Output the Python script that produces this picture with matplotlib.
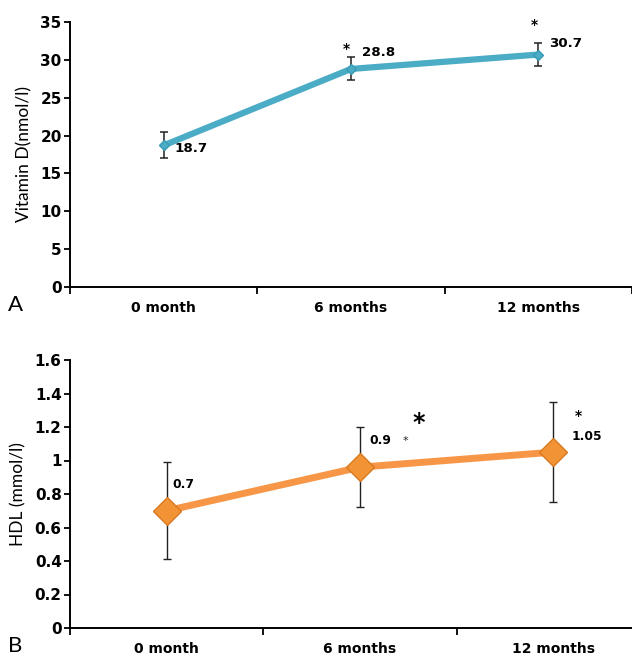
import matplotlib
matplotlib.use("Agg")
import matplotlib.pyplot as plt
import numpy as np

categories = ["0 month", "6 months", "12 months"]

vitd_values = [18.7, 28.8, 30.7]
vitd_err_low = [1.6, 1.5, 1.5]
vitd_err_high = [1.8, 1.6, 1.5]
vitd_ticks = [0, 5, 10, 15, 20, 25, 30, 35]

hdl_values = [0.70, 0.96, 1.05]
hdl_err_low = [0.29, 0.24, 0.30]
hdl_err_high = [0.29, 0.24, 0.30]
hdl_ticks = [0, 0.2, 0.4, 0.6, 0.8, 1.0, 1.2, 1.4, 1.6]
hdl_tick_labels = ["0", "0.2", "0.4", "0.6", "0.8", "1", "1.2", "1.4", "1.6"]

vitd_labels = ["18.7", "28.8", "30.7"]
hdl_labels = ["0.7", "0.9", "1.05"]

BOLD = ['DejaVu Sans']
LIGHT = ['Lato', 'DejaVu Sans']

fig = plt.figure(figsize=(6.32, 6.6), dpi=100)
W, H = 632, 660

def style_axes(ax, yticks, ylabels, ylabel, ylabel_size, labelpad):
    ax.spines['top'].set_visible(False)
    ax.spines['right'].set_visible(False)
    ax.spines['left'].set_linewidth(1.4)
    ax.spines['bottom'].set_linewidth(1.4)
    ax.set_xlim(0, 3)
    ax.set_xticks([0, 1, 2, 3])
    ax.set_xticklabels([])
    ax.set_xticks([0.5, 1.5, 2.5], minor=True)
    ax.set_xticklabels(categories, minor=True, fontsize=10, fontweight='bold',
                       family=BOLD)
    ax.tick_params(axis='x', which='minor', length=0, pad=10)
    ax.tick_params(axis='x', which='major', length=5, width=1.3, direction='out')
    ax.set_yticks(yticks)
    ax.set_yticklabels(ylabels, fontsize=11, fontweight='bold', family=BOLD)
    ax.tick_params(axis='y', length=4, width=1.3, direction='out', pad=2)
    ax.set_ylabel(ylabel, fontsize=ylabel_size, labelpad=labelpad, family=LIGHT)

x = np.arange(len(categories)) + 0.5

# Panel A
axA = fig.add_axes([70 / W, 1 - 287 / H, 562 / W, 265 / H])
axA.errorbar(x, vitd_values, yerr=[vitd_err_low, vitd_err_high], fmt='none',
             ecolor='#222222', elinewidth=1.1, capsize=3, capthick=1.1, zorder=2)
axA.plot(x, vitd_values, color='#4BACC6', lw=4.5, marker='D', markersize=5,
         markerfacecolor='#4BACC6', markeredgecolor='#3a9ab5', zorder=3,
         solid_capstyle='round')
axA.set_ylim(0, 35)
style_axes(axA, vitd_ticks, [str(t) for t in vitd_ticks], "Vitamin D(nmol/l)", 12.5, 6)

lab_off_A = [(8, -2), (8, 12), (8, 8)]
for xi, yi, lab, off in zip(x, vitd_values, vitd_labels, lab_off_A):
    axA.annotate(lab, (xi, yi), xytext=off, textcoords='offset points',
                 fontsize=9.6, fontweight='bold', ha='left', va='center', family=BOLD)
star_off_A = [(-3, 14), (-3, 21)]
for xi, yi, off in zip(x[1:], vitd_values[1:], star_off_A):
    axA.annotate("*", (xi, yi), xytext=off, textcoords='offset points',
                 fontsize=10, fontweight='bold', ha='center', va='center', family=BOLD)
fig.text(8 / W, 1 - 305 / H, "A", fontsize=16, ha='left', va='center', family=LIGHT)

# Panel B
axB = fig.add_axes([70 / W, 1 - 628 / H, 580 / W, 268 / H])
axB.errorbar(x, hdl_values, yerr=[hdl_err_low, hdl_err_high], fmt='none',
             ecolor='#222222', elinewidth=1.0, capsize=3, capthick=1.0, zorder=2)
axB.plot(x, hdl_values, color='#F79646', lw=5, zorder=3, solid_capstyle='round')
axB.plot(x, hdl_values, linestyle='none', marker='D', markersize=14,
         markerfacecolor='#F29335', markeredgecolor='#D9791F', zorder=4)
axB.set_ylim(0, 1.6)
style_axes(axB, hdl_ticks, hdl_tick_labels, "HDL (mmol/l)", 12.5, 6)

lab_off_B = [(4, 19), (7, 19), (13, 11)]
for xi, yi, lab, off in zip(x, hdl_values, hdl_labels, lab_off_B):
    axB.annotate(lab, (xi, yi), xytext=off, textcoords='offset points',
                 fontsize=8.8, fontweight='bold', ha='left', va='center', family=BOLD)
axB.annotate("*", (x[1], hdl_values[1]), xytext=(33, 19), textcoords='offset points',
             fontsize=8, ha='center', va='center', color='#222222', family=BOLD)
axB.annotate("*", (x[1], hdl_values[1]), xytext=(42, 32), textcoords='offset points',
             fontsize=17, fontweight='bold', ha='center', va='center', family=BOLD)
axB.annotate("*", (x[2], hdl_values[2]), xytext=(18, 26), textcoords='offset points',
             fontsize=10, fontweight='bold', ha='center', va='center', family=BOLD)
fig.text(8 / W, 1 - 646 / H, "B", fontsize=16, ha='left', va='center', family=LIGHT)

fig.savefig("out.png", dpi=100)
